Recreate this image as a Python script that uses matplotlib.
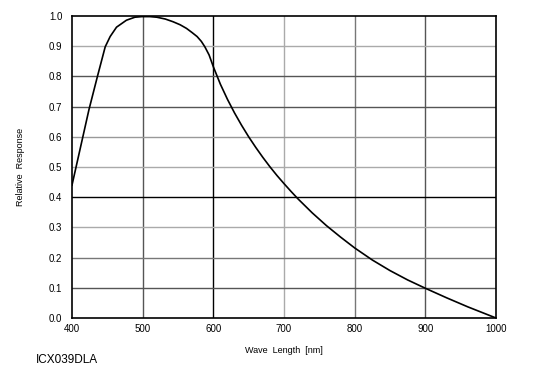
import numpy as np
import matplotlib.pyplot as plt

plt.rcParams['font.family'] = ['Liberation Sans', 'DejaVu Sans']

# spectral response
wave = [400, 412, 424, 436, 447, 454, 463, 477, 489, 499, 510, 520, 532, 543, 553,
        562, 570, 577, 583, 588, 594, 600, 610, 620, 630, 640, 650, 660, 670, 680,
        690, 700, 710, 720, 740, 760, 780, 800, 825, 850, 875, 900, 930, 960, 1000]
resp = [0.44, 0.565, 0.69, 0.80, 0.898, 0.932, 0.963, 0.986, 0.996, 0.998, 0.998,
        0.996, 0.99, 0.981, 0.971, 0.959, 0.945, 0.932, 0.916, 0.898, 0.871, 0.832,
        0.774, 0.724, 0.679, 0.638, 0.600, 0.565, 0.532, 0.501, 0.472, 0.445, 0.419,
        0.394, 0.348, 0.306, 0.268, 0.232, 0.192, 0.157, 0.126, 0.0985, 0.067, 0.037,
        0.0]

xticks = [400, 500, 600, 700, 800, 900, 1000]
yticks = [0.0, 0.1, 0.2, 0.3, 0.4, 0.5, 0.6, 0.7, 0.8, 0.9, 1.0]

fig = plt.figure(figsize=(5.38, 3.78), dpi=100)
ax = fig.add_axes([72 / 538, 1 - 318 / 378, (496 - 72) / 538, (318 - 16) / 378])

# grid lines in the scan have uneven shades
xgrid_col = {500: '#555555', 600: '#000000', 700: '#aaaaaa', 800: '#777777', 900: '#555555'}
ygrid_col = {0.1: '#555555', 0.2: '#777777', 0.3: '#aaaaaa', 0.4: '#000000', 0.5: '#aaaaaa',
             0.6: '#999999', 0.7: '#555555', 0.8: '#555555', 0.9: '#aaaaaa'}
for x, c in xgrid_col.items():
    ax.axvline(x, color=c, lw=1.0, zorder=1)
for y, c in ygrid_col.items():
    ax.axhline(y, color=c, lw=1.0, zorder=1)

ax.plot(wave, resp, color='black', lw=1.2, zorder=3, solid_joinstyle='round')

ax.set_xlim(400, 1000)
ax.set_ylim(0, 1.0)
ax.set_xticks(xticks)
ax.set_yticks(yticks)
ax.set_yticklabels(['%.1f' % v for v in yticks])
ax.tick_params(length=0, labelsize=7, pad=7)
ax.tick_params(axis='x', pad=4)
for s in ax.spines.values():
    s.set_linewidth(1.2)

ax.set_xlabel('Wave  Length  [nm]', fontsize=6.5, labelpad=9)
ax.set_ylabel('Relative  Response', fontsize=6.5, labelpad=17)
fig.text(36 / 538, 1 - 360 / 378, 'ICX039DLA', fontsize=8.5, va='center', ha='left')

fig.savefig('out.png', dpi=100)
